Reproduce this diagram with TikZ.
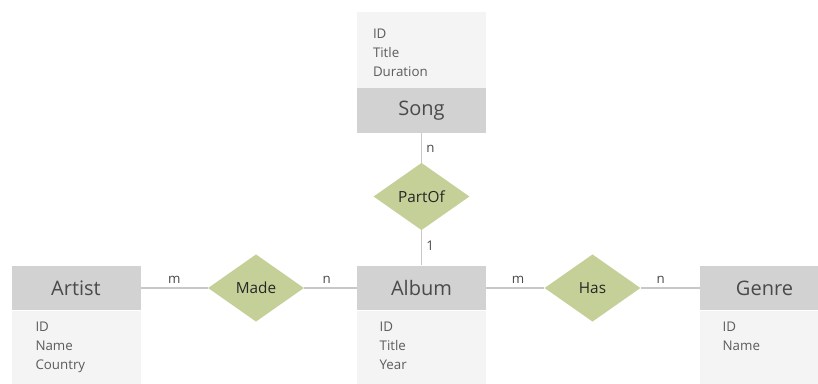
\documentclass[tikz,border=0pt]{standalone}
\usepackage{fontspec}
\setmainfont{Open Sans}
\usetikzlibrary{shapes.geometric,positioning}
\definecolor{headgray}{HTML}{D2D2D2}
\definecolor{attrgray}{HTML}{F4F4F4}
\definecolor{relgreen}{HTML}{C5D098}
\definecolor{linegray}{HTML}{C8C8C8}
\definecolor{textgray}{HTML}{4A4A4A}
% attribute list: indent, top gap, lines
\newcommand{\fieldlist}[3]{\parbox[c][57pt][t]{96.75pt}{\leftskip=#1\relax\vspace*{#2}#3}}

\begin{document}
\begin{tikzpicture}[x=0.75pt,y=-0.75pt,
    entity/.style={fill=headgray,minimum width=96.75pt,minimum height=33.5pt,inner sep=0pt,text=textgray,font=\fontsize{15}{18}\selectfont},
    attrs/.style={fill=attrgray,inner sep=0pt,text=textgray!90,font=\fontsize{10}{14.25}\selectfont},
    rel/.style={diamond,fill=relgreen,minimum width=72pt,minimum height=50.5pt,inner sep=0pt,text=black!85,font=\fontsize{11.5}{13}\selectfont},
    link/.style={draw=linegray,line width=0.8pt},
    card/.style={text=textgray,font=\fontsize{10}{12}\selectfont}]
    \useasboundingbox (0,0) rectangle (818,383);

    % entities
    \node[entity] (song) at (421.5,110.5) {Song};
    \node[entity] (artist) at (76,288) {Artist};
    \node[entity] (album) at (421.5,288) {Album};
    \node[entity] (genre) at (764.5,288) {Genre};

    % attribute boxes
    \node[attrs,above=0pt of song] (songattr) {\fieldlist{12pt}{13pt}{ID\\Title\\Duration}};
    \node[attrs,below=0pt of artist] (artistattr) {\fieldlist{18pt}{8.5pt}{ID\\Name\\Country}};
    \node[attrs,below=0pt of album] (albumattr) {\fieldlist{17pt}{8.5pt}{ID\\Title\\Year}};
    \node[attrs,below=0pt of genre] (genreattr) {\fieldlist{17pt}{8.5pt}{ID\\Name}};

    % relationships
    \node[rel] (partof) at (421.5,196.5) {PartOf};
    \node[rel] (made) at (256,288) {Made};
    \node[rel] (has) at (592.5,288) {Has};

    \draw[link] (song) -- node[card,right,pos=0.55] {n} (partof);
    \draw[link] (partof) -- node[card,right,pos=0.45] {1} (album);
    \draw[link] (artist) -- node[card,above,pos=0.5] {m} (made);
    \draw[link] (made) -- node[card,above,pos=0.43] {n} (album);
    \draw[link] (album) -- node[card,above,pos=0.55] {m} (has);
    \draw[link] (has) -- node[card,above,pos=0.34] {n} (genre);
\end{tikzpicture}
\end{document}
